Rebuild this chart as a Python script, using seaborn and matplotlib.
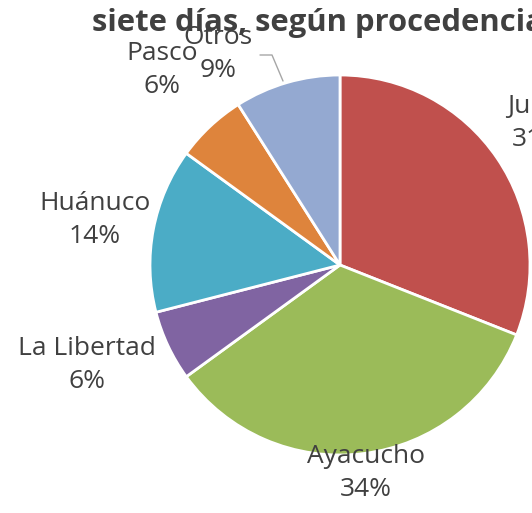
import matplotlib
matplotlib.use("Agg")
import matplotlib.pyplot as plt
import seaborn as sns

categories = ["Junín", "Ayacucho", "La Libertad", "Huánuco", "Pasco", "Otros"]
values = [31, 34, 6, 14, 6, 9]
colors = ["#C0504D", "#9BBB59", "#8064A2", "#4BACC6", "#DE843C", "#94A9D1"]
title = "siete días, según procedencia"

sns.set_style("white")
plt.rcParams['font.family'] = ['Open Sans', 'DejaVu Sans']

W, H = 532, 513
fig = plt.figure(figsize=(W / 100, H / 100), dpi=100)
ax = fig.add_axes([0, 0, 1, 1])

cx, cy, r = 340, H - 265, 190
ax.pie(values, colors=colors, startangle=90, counterclock=False,
       center=(cx, cy), radius=r, frame=True,
       wedgeprops=dict(edgecolor="white", linewidth=2))
ax.set_xlim(0, W)
ax.set_ylim(0, H)
ax.axis("off")

label_pos = {
    "Junín": (538, 123),
    "Ayacucho": (366, 473),
    "La Libertad": (87, 365),
    "Huánuco": (95, 220),
    "Pasco": (162, 70),
    "Otros": (218, 54),
}
txtcol = "#404040"
for cat, val in zip(categories, values):
    x, y = label_pos[cat]
    ax.text(x, H - y, f"{cat}\n{val}%", ha="center", va="center",
            fontsize=19, color=txtcol, linespacing=1.4, zorder=3)

# leader line for Otros
ax.plot([260, 272, 283], [H - 55, H - 55, H - 81], color="#A6A6A6", lw=1, zorder=2)

fig.text(92 / W, 1 - 23 / H, title, ha="left", va="center", fontsize=22.3,
         fontweight="bold", color="#404040", zorder=5)

fig.savefig("out.png", dpi=100)
